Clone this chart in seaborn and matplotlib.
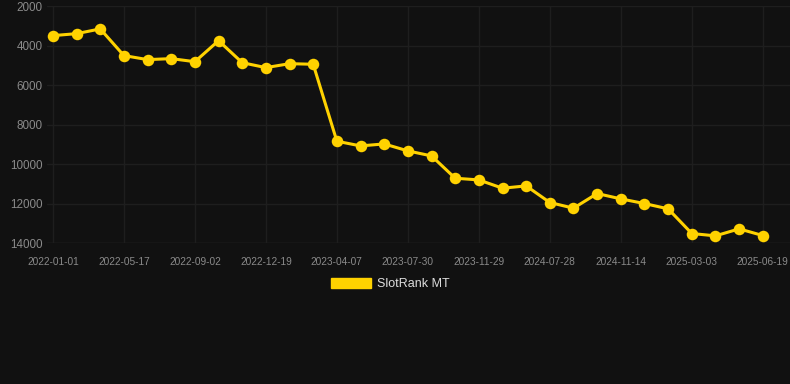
import pandas as pd
import seaborn as sns
import matplotlib.pyplot as plt
from matplotlib.patches import Patch

# Rank values (lower is better, axis inverted)
ranks = [3500, 3400, 3160, 4510, 4715, 4665, 4820, 3755, 4870, 5120,
         4920, 4950, 8846, 9084, 8983, 9337, 9590, 10720, 10806, 11226,
         11108, 11950, 12237, 11496, 11766, 12003, 12270, 13520, 13638,
         13284, 13622]

# Date labels shown under every third point
tick_labels = ["2022-01-01", "2022-05-17", "2022-09-02", "2022-12-19",
               "2023-04-07", "2023-07-30", "2023-11-29", "2024-07-28",
               "2024-11-14", "2025-03-03", "2025-06-19"]

y_ticks = [2000, 4000, 6000, 8000, 10000, 12000, 14000]

df = pd.DataFrame({"idx": range(len(ranks)), "rank": ranks})

bg = "#111111"
grid = "#1e1e1e"
gold = "#FFD200"

sns.set_theme(style="dark", rc={
    "figure.facecolor": bg,
    "axes.facecolor": bg,
    "grid.color": grid,
    "axes.grid": True,
})
plt.rcParams["font.family"] = ["Liberation Sans", "DejaVu Sans"]

fig = plt.figure(figsize=(7.9, 3.84), dpi=100)
ax = fig.add_axes([47 / 790, 141 / 384, 743 / 790, 237 / 384])

sns.lineplot(data=df, x="idx", y="rank", ax=ax, color=gold, linewidth=2.2,
             marker="o", markersize=8.3, markeredgewidth=0, legend=False)

ax.set_ylim(14000, 2000)
ax.set_yticks(y_ticks)
ax.set_yticklabels([str(v) for v in y_ticks])
ax.set_xlim(-0.25, 31.15)
ax.set_xticks(range(0, len(ranks), 3))
ax.set_xticklabels(tick_labels)
ax.set_xlabel("")
ax.set_ylabel("")

ax.grid(True, color=grid, linewidth=1)
for s in ax.spines.values():
    s.set_visible(False)
ax.axhline(14000, color="#2a2a2a", linewidth=1, zorder=0)

ax.tick_params(axis="y", length=0, pad=3, labelsize=8.4, labelcolor="#8a8a8a")
ax.tick_params(axis="x", length=5, color=grid, pad=5, labelsize=7.3,
               labelcolor="#8a8a8a")

handle = Patch(facecolor=gold, edgecolor=gold)
leg = fig.legend([handle], ["SlotRank MT"], loc="center",
                 bbox_to_anchor=(390 / 790, 1 - 284 / 384), frameon=False,
                 fontsize=9, handlelength=3.2, handleheight=0.9,
                 handletextpad=0.5)
for t in leg.get_texts():
    t.set_color("#dddddd")

fig.savefig("out.png", dpi=100, facecolor=bg)
